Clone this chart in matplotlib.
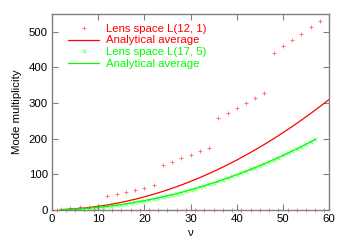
import matplotlib.pyplot as plt

plt.rcParams['font.family'] = ['Liberation Sans', 'DejaVu Sans']
plt.rcParams['font.size'] = 8.2

# Lens space L(12, 1): even nu
red_nu = [2, 4, 6, 8, 10, 12, 14, 16, 18, 20, 22, 24, 26, 28, 30,
          32, 34, 36, 38, 40, 42, 44, 46, 48, 50, 52, 54, 56, 58]
red_mult = [3, 5, 7, 9, 11, 39, 45, 51, 57, 63, 69, 125, 135, 145, 155,
            165, 175, 259, 273, 287, 301, 315, 329, 441, 459, 477, 495, 513, 531]
# odd nu have no modes
red_zero_nu = [1, 3, 5, 7, 9, 11, 13, 15, 17, 19, 21, 23, 25, 27, 29,
               31, 33, 35, 37, 39, 41, 43, 45, 47, 49, 51, 53, 55, 57, 59]
red_zero = [0] * len(red_zero_nu)

# analytical average for L(12, 1)
red_avg_nu = [2, 4, 6, 8, 10, 12, 14, 16, 18, 20, 22, 24, 26, 28, 30,
              32, 34, 36, 38, 40, 42, 44, 46, 48, 50, 52, 54, 56, 58, 60]
red_avg = [0.75, 2.1, 4.1, 6.8, 10.1, 14.1, 18.8, 24.1, 30.1, 36.8, 44.1,
           52.1, 60.8, 70.1, 80.1, 90.8, 102.1, 114.1, 126.8, 140.1, 154.1,
           168.8, 184.1, 200.1, 216.8, 234.1, 252.1, 270.8, 290.1, 310.1]

# Lens space L(17, 5)
green_nu = list(range(2, 58))
green_mult = [1, 1, 1, 2, 3, 4, 5, 6, 7, 8, 10, 12, 13, 15, 17, 19, 21, 24,
              26, 28, 31, 34, 37, 40, 43, 46, 49, 53, 57, 60, 64, 68, 72, 76,
              81, 85, 89, 94, 99, 104, 109, 114, 119, 124, 130, 135, 141, 147,
              153, 159, 165, 172, 178, 184, 191, 198]

green_avg_nu = [2, 5, 8, 11, 14, 17, 20, 23, 26, 29, 32, 35, 38, 41, 44, 47,
                50, 53, 56, 57]
green_avg = [0.5, 2.1, 4.8, 8.5, 13.2, 19.1, 25.9, 33.9, 42.9, 52.9, 64.1,
             76.2, 89.5, 103.8, 119.1, 135.5, 153.0, 171.5, 191.1, 197.9]

red = '#ff0000'
green = '#00ff00'
gray = '#808080'

fig = plt.figure(figsize=(3.49, 2.45), dpi=100)
ax = fig.add_axes([0.149, 0.143, 0.794, 0.8])

ax.plot(red_nu, red_mult, '+', color=red, ms=3.5, mew=0.6, alpha=0.6,
        label='Lens space L(12, 1)')
ax.plot(red_zero_nu, red_zero, '+', color=red, ms=3.5, mew=0.6, alpha=0.6,
        clip_on=False)
ax.plot(red_avg_nu, red_avg, '-', color=red, lw=0.9, label='Analytical average')
ax.plot(green_nu, green_mult, 'x', color=green, ms=2.5, mew=0.6, alpha=0.6,
        label='Lens space L(17, 5)')
ax.plot(green_avg_nu, green_avg, '-', color=green, lw=0.9,
        label='Analytical average')

ax.set_xlim(0, 60)
ax.set_ylim(0, 550)
ax.set_xticks([0, 10, 20, 30, 40, 50, 60])
ax.set_yticks([0, 100, 200, 300, 400, 500])
ax.set_xlabel('ν', labelpad=3)
ax.set_ylabel('Mode multiplicity', labelpad=5)

for s in ax.spines.values():
    s.set_color(gray)
    s.set_linewidth(1.0)
ax.tick_params(direction='in', length=4, width=0.8, color=gray,
               top=True, right=True, pad=3)

leg = ax.legend(loc='upper left', frameon=False, handlelength=2.7,
                handletextpad=0.6, labelspacing=0.14, borderaxespad=0.3,
                bbox_to_anchor=(0.03, 0.99))
for txt, c in zip(leg.get_texts(), [red, red, green, green]):
    txt.set_color(c)

plt.savefig('out.png')
